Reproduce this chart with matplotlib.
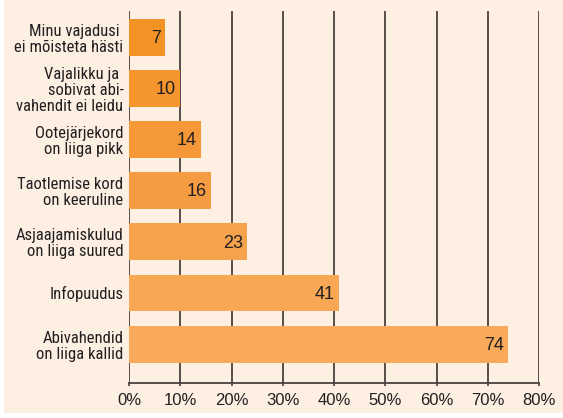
import matplotlib
matplotlib.use("Agg")
import matplotlib.pyplot as plt
from matplotlib.patches import Rectangle

categories = [
    "Abivahendid\non liiga kallid",
    "Infopuudus",
    "Asjaajamiskulud\non liiga suured",
    "Taotlemise kord\non keeruline",
    "Ootejärjekord\non liiga pikk",
    "Vajalikku ja \nsobivat abi-\nvahendit ei leidu",
    "Minu vajadusi \nei mõisteta hästi",
]
values = [74, 41, 23, 16, 14, 10, 7]
bar_colors = ["#F8AA5A", "#F8A855", "#F6A24D", "#F59C42", "#F59837", "#F4952E", "#F39326"]
xticks = [0, 10, 20, 30, 40, 50, 60, 70, 80]
xticklabels = ["0%", "10%", "20%", "30%", "40%", "50%", "60%", "70%", "80%"]

narrow = "Roboto Condensed"
sans = "Liberation Sans"

bg = "#FDF0E3"
txt = "#231F20"
W, H = 563, 418
fig = plt.figure(figsize=(W / 100, H / 100), dpi=100)
fig.patch.set_facecolor("white")
fig.patches.append(Rectangle((4 / W, 5 / H), (W - 4) / W, (H - 5) / H,
                             transform=fig.transFigure, facecolor=bg,
                             edgecolor="none", zorder=-10))

ax = fig.add_axes([129 / W, 1 - 383 / H, (539 - 129) / W, (383 - 11) / H])
ax.patch.set_visible(False)

y = list(range(len(categories)))
ax.barh(y, values, height=0.72, color=bar_colors, zorder=3)
for yi, v in zip(y, values):
    ax.annotate(str(v), xy=(v, yi), xytext=(-3, -1), textcoords="offset points",
                ha="right", va="center", fontsize=13, color=txt,
                fontfamily=sans, zorder=4)

ax.set_xlim(0, 80)
ax.set_ylim(-0.76, 6.51)
ax.set_xticks(xticks)
ax.set_xticklabels(xticklabels, fontsize=12, color=txt, fontfamily=sans)
ax.set_yticks(y)
ax.set_yticklabels(categories, fontsize=12, color=txt, fontfamily=narrow,
                   linespacing=1.08)
ax.tick_params(axis="y", length=0, pad=4)
ax.tick_params(axis="x", length=2, width=1.2, color="#4a4040", pad=5)

for x in xticks:
    ax.axvline(x, color="#4a4040", lw=1.3, zorder=1)
for s in ["top", "right", "left"]:
    ax.spines[s].set_visible(False)
ax.spines["bottom"].set_color("#4a4040")
ax.spines["bottom"].set_linewidth(1.3)

fig.savefig("out.png", dpi=100, facecolor=fig.get_facecolor())
